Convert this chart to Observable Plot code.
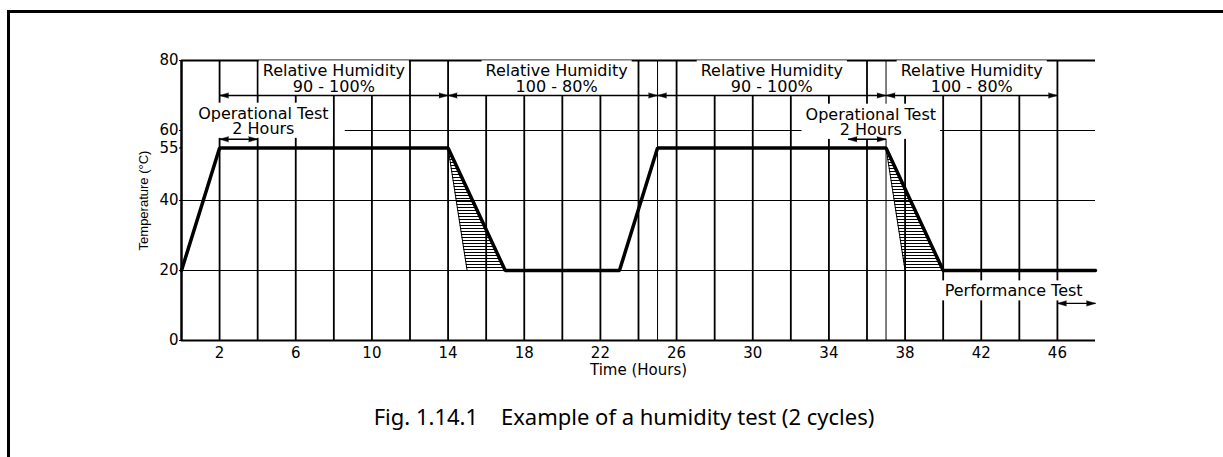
<!DOCTYPE html>
<html><head><meta charset="utf-8">
<script src="https://cdn.jsdelivr.net/npm/d3@7"></script>
<script src="https://cdn.jsdelivr.net/npm/@observablehq/plot@0.6"></script>
<style>
html,body{margin:0;padding:0;background:#fff;width:1223px;height:457px;overflow:hidden;}
#frame{position:absolute;left:7px;top:10px;width:1300px;height:600px;border-top:3px solid #000;border-left:3px solid #000;}
#chart{position:absolute;left:0;top:0;}
#caption{position:absolute;left:0;width:1248px;top:401px;text-align:center;font-family:"Noto Sans";font-size:22px;color:#000;white-space:pre;}
</style></head><body>
<div id="frame"></div>
<div id="chart"></div>
<div id="caption">Fig. 1.14.1    Example of a humidity test (2 cycles)</div>
<script>
// ---- data ----
const profileHours = [0, 2, 14, 17, 23, 25, 37, 40, 48];
const profileTemps = [20, 55, 55, 20, 20, 55, 55, 20, 20];
const gridHours = [2,4,6,8,10,12,14,16,18,20,22,24,26,28,30,32,34,36,38,40,42,44,46];
const thinGridHours = [25, 37];
const gridTemps = [20, 40];
const line60Temp = 60;
const line60Span = [8.6, 48];
const xTicks = [2,6,10,14,18,22,26,30,34,38,42,46];
const yTicks = [0,20,40,55,60,80];
const xLabel = "Time (Hours)";
const yLabel = "Temperature (°C)";

const rhStart = [2, 14, 25, 37];
const rhEnd = [14, 25, 37, 46];
const rhCenter = [8, 19.7, 31, 41.5];
const rhText = ["Relative Humidity\n90 - 100%", "Relative Humidity\n100 - 80%", "Relative Humidity\n90 - 100%", "Relative Humidity\n100 - 80%"];
const rhArrowTemp = 70;
const rhTextTemp = 74.7;

const opStart = [2, 35];
const opEnd = [4, 37];
const opCenter = [4.3, 36.2];
const opText = ["Operational Test\n2 Hours", "Operational Test\n2 Hours"];
const opTextTemp = [62.6, 62.3];
const opArrowTemp = 57.5;

const perfStart = [46];
const perfEnd = [48];
const perfCenter = [43.7];
const perfText = ["Performance Test"];
const perfTextTemp = 14;
const perfArrowTemp = 10.6;

const hatchStart = [14, 37];
const hatchThinEnd = [15, 38];
const hatchThickEnd = [17, 40];
const hatchTopTemp = 55;
const hatchBottomTemp = 20;

// ---- tables built from the arrays ----
const profile = profileHours.map((h, i) => ({h, t: profileTemps[i]}));
const arrows = [
  ...rhStart.map((s, i) => ({x1: s, x2: rhEnd[i], y: rhArrowTemp})),
  ...opStart.map((s, i) => ({x1: s, x2: opEnd[i], y: opArrowTemp})),
  ...perfStart.map((s, i) => ({x1: s, x2: perfEnd[i], y: perfArrowTemp}))
];
const heads = arrows.flatMap(a => [{x: a.x2, y: a.y, rot: 90}, {x: a.x1, y: a.y, rot: -90}]);
const labels = [
  ...rhCenter.map((c, i) => ({x: c, y: rhTextTemp, text: rhText[i]})),
  ...opCenter.map((c, i) => ({x: c, y: opTextTemp[i], text: opText[i]})),
  ...perfCenter.map((c, i) => ({x: c, y: perfTextTemp, text: perfText[i]}))
];
const hatch = hatchStart.flatMap((s, i) => [
  {g: i, y: hatchTopTemp, x1: s, x2: s},
  {g: i, y: hatchBottomTemp, x1: hatchThinEnd[i], x2: hatchThickEnd[i]}
]);
const thinEdges = hatchStart.map((s, i) => ({x1: s, y1: hatchTopTemp, x2: hatchThinEnd[i], y2: hatchBottomTemp}));

const plot = Plot.plot({
  width: 1223, height: 390,
  marginLeft: 181, marginRight: 128, marginTop: 60, marginBottom: 50,
  x: {domain: [0, 48]},
  y: {domain: [0, 80]},
  style: {fontFamily: "DejaVu Sans", fontSize: "15px", color: "black", background: "transparent"},
  marks: [
    Plot.ruleX(gridHours, {y1: 0, y2: 80, stroke: "black", strokeWidth: 1.8}),
    Plot.ruleX(thinGridHours, {y1: 0, y2: 80, stroke: "black", strokeWidth: 1}),
    Plot.ruleY(gridTemps, {x1: 0, x2: 48, stroke: "black", strokeWidth: 1.2}),
    Plot.ruleY([line60Temp], {x1: line60Span[0], x2: line60Span[1], stroke: "black", strokeWidth: 1.2}),
    Plot.ruleY([80], {x1: 0, x2: 48, stroke: "black", strokeWidth: 1.8}),
    Plot.text(labels, {x: "x", y: "y", text: "text", fontSize: 16, lineHeight: 0.95, fill: "black"}),
    Plot.link(arrows, {x1: "x1", x2: "x2", y1: "y", y2: "y", stroke: "black", strokeWidth: 1.3}),
    Plot.vector(heads, {x: "x", y: "y", rotate: "rot", length: 9, r: 2.6, shape: "spike", anchor: "end", fill: "black", stroke: "black", strokeWidth: 0.5}),
    Plot.areaX(hatch, {y: "y", x1: "x1", x2: "x2", z: "g", fill: "url(#hatch)"}),
    Plot.link(thinEdges, {x1: "x1", y1: "y1", x2: "x2", y2: "y2", stroke: "black", strokeWidth: 1}),
    Plot.line(profile, {x: "h", y: "t", stroke: "black", strokeWidth: 3.5, strokeLinejoin: "miter"}),
    Plot.ruleX([0], {y1: 0, y2: 80, stroke: "black", strokeWidth: 2.5}),
    Plot.ruleY([0], {x1: 0, x2: 48, stroke: "black", strokeWidth: 2}),
    Plot.axisY(yTicks, {tickSize: 2, tickPadding: 1, label: null, fontSize: 15}),
    Plot.axisX(xTicks, {tickSize: 0, tickPadding: 7, label: null, fontSize: 15}),
    Plot.text([xLabel], {frameAnchor: "bottom", lineAnchor: "middle", dy: 30, fontSize: 15, fill: "black"}),
    Plot.text([yLabel], {frameAnchor: "left", textAnchor: "middle", lineAnchor: "middle", dx: -38, rotate: -90, fontSize: 13, fontFamily: "Liberation Sans", fill: "black"})
  ]
});

const ns = "http://www.w3.org/2000/svg";
const defs = document.createElementNS(ns, "defs");
defs.innerHTML = '<pattern id="hatch" patternUnits="userSpaceOnUse" width="6" height="3"><rect x="0" y="0" width="6" height="1" fill="black"/></pattern>';
plot.insertBefore(defs, plot.firstChild);
document.getElementById("chart").appendChild(plot);

// white boxes behind the annotation texts (they interrupt the grid lines, as in the original)
const wanted = new Set(labels.map(d => d.text.replace(/\n/g, "")));
plot.querySelectorAll("text").forEach(t => {
  if (!wanted.has(t.textContent)) return;
  const b = t.getBBox();
  const r = document.createElementNS(ns, "rect");
  r.setAttribute("x", b.x - 4);
  r.setAttribute("y", b.y - 1);
  r.setAttribute("width", b.width + 8);
  r.setAttribute("height", b.height + 1);
  r.setAttribute("fill", "white");
  const tr = t.getAttribute("transform");
  if (tr) r.setAttribute("transform", tr);
  t.parentNode.insertBefore(r, t);
});
</script>
</body></html>
